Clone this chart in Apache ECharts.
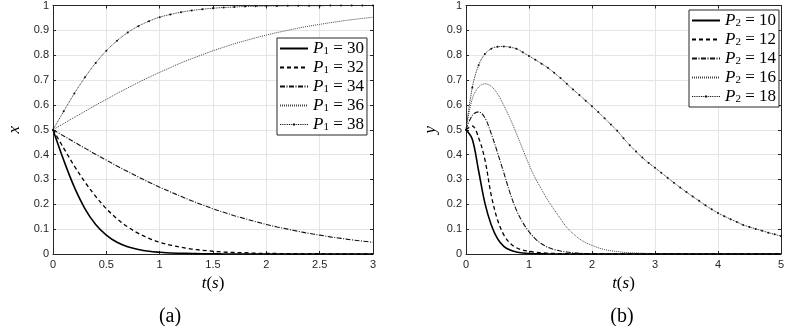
<!DOCTYPE html>
<html><head><meta charset="utf-8">
<script src="https://cdn.jsdelivr.net/npm/echarts@6/dist/echarts.min.js"></script>
<style>html,body{margin:0;padding:0;background:#fff}#c{width:787px;height:326px}</style>
</head><body><div id="c"></div>
<script>
// ---------- data: panel (a) ----------
const tA = [0,0.1,0.2,0.3,0.4,0.5,0.6,0.7,0.8,0.9,1.0,1.1,1.2,1.3,1.4,1.5,1.6,1.7,1.8,1.9,2.0,2.1,2.2,2.3,2.4,2.5,2.6,2.7,2.8,2.9,3.0];
const x30 = [0.5,0.378,0.269,0.182,0.119,0.076,0.047,0.029,0.018,0.011,0.007,0.004,0.003,0.002,0.001,0.001,0,0,0,0,0,0,0,0,0,0,0,0,0,0,0];
const x32 = [0.5,0.426,0.354,0.289,0.232,0.182,0.142,0.109,0.083,0.063,0.047,0.036,0.027,0.020,0.015,0.011,0.008,0.006,0.005,0.003,0.002,0.002,0.001,0.001,0.001,0.001,0,0,0,0,0];
const x34 = [0.5,0.475,0.450,0.426,0.401,0.378,0.354,0.332,0.310,0.289,0.269,0.250,0.232,0.214,0.198,0.182,0.168,0.154,0.142,0.130,0.119,0.109,0.100,0.091,0.083,0.076,0.069,0.063,0.057,0.052,0.047];
const x36 = [0.5,0.525,0.550,0.574,0.599,0.622,0.646,0.668,0.690,0.711,0.731,0.750,0.769,0.786,0.802,0.818,0.832,0.846,0.858,0.870,0.881,0.891,0.900,0.909,0.917,0.924,0.931,0.937,0.943,0.948,0.953];
const x38 = [0.5,0.574,0.646,0.711,0.769,0.818,0.858,0.891,0.917,0.937,0.953,0.964,0.973,0.980,0.985,0.989,0.992,0.994,0.996,0.997,0.998,0.998,0.999,0.999,0.999,0.999,1,1,1,1,1];
const legendValsA = ['30','32','34','36','38'];

// ---------- data: panel (b) ----------
const tB = [0,0.1,0.2,0.3,0.4,0.5,0.6,0.7,0.8,0.9,1.0,1.1,1.2,1.3,1.4,1.5,1.6,1.7,1.8,1.9,2.0,2.1,2.2,2.3,2.4,2.5,2.6,2.7,2.8,2.9,3.0,3.1,3.2,3.3,3.4,3.5,3.6,3.7,3.8,3.9,4.0,4.1,4.2,4.3,4.4,4.5,4.6,4.7,4.8,4.9,5.0];
const y10 = [0.5,0.462,0.335,0.205,0.118,0.062,0.031,0.016,0.008,0.004,0.002,0.001,0.001,0,0,0,0,0,0,0,0,0,0,0,0,0,0,0,0,0,0,0,0,0,0,0,0,0,0,0,0,0,0,0,0,0,0,0,0,0,0];
const y12 = [0.5,0.515,0.468,0.380,0.237,0.138,0.077,0.043,0.025,0.016,0.011,0.007,0.005,0.003,0.002,0.001,0.001,0,0,0,0,0,0,0,0,0,0,0,0,0,0,0,0,0,0,0,0,0,0,0,0,0,0,0,0,0,0,0,0,0,0];
const y14 = [0.5,0.558,0.572,0.548,0.485,0.408,0.327,0.245,0.177,0.127,0.090,0.061,0.041,0.027,0.018,0.012,0.008,0.005,0.003,0.002,0.001,0,0,0,0,0,0,0,0,0,0,0,0,0,0,0,0,0,0,0,0,0,0,0,0,0,0,0,0,0,0];
const y16 = [0.5,0.625,0.672,0.685,0.675,0.645,0.598,0.545,0.485,0.422,0.360,0.305,0.260,0.216,0.178,0.142,0.107,0.082,0.061,0.046,0.035,0.025,0.018,0.013,0.010,0.007,0.005,0.004,0.003,0.002,0.001,0.001,0.001,0,0,0,0,0,0,0,0,0,0,0,0,0,0,0,0,0,0];
const y18 = [0.5,0.670,0.760,0.805,0.826,0.834,0.835,0.832,0.826,0.812,0.797,0.782,0.766,0.749,0.729,0.708,0.685,0.662,0.640,0.617,0.595,0.571,0.546,0.521,0.496,0.466,0.438,0.412,0.388,0.366,0.347,0.327,0.307,0.287,0.268,0.249,0.231,0.214,0.196,0.180,0.165,0.152,0.140,0.129,0.117,0.109,0.101,0.094,0.086,0.079,0.072];
const legendValsB = ['10','12','14','16','18'];

// ---------- ticks ----------
const xTicksA = [0,0.5,1,1.5,2,2.5,3];
const xTicksB = [0,1,2,3,4,5];
const yTicks = [0,0.1,0.2,0.3,0.4,0.5,0.6,0.7,0.8,0.9,1];

const AX = '#262626', GRIDC = '#e5e5e5';
const SERIF = '"Liberation Serif", "DejaVu Serif", serif';
const SANS = '"Liberation Sans", Arial, sans-serif';

function pairs(t, v){ return t.map((x,i)=>[x, v[i]]); }

function xAxis(gi, ticks, pos, withName){
  const a = {
    type:'value', gridIndex:gi, position:pos,
    min:ticks[0], max:ticks[ticks.length-1], interval:ticks[1]-ticks[0],
    axisLine:{show:true, onZero:false, lineStyle:{color:AX, width:1}},
    axisTick:{show:true, inside:true, length:3, lineStyle:{color:AX}},
    axisLabel:{show:pos==='bottom', color:AX, fontSize:11, fontFamily:SANS, margin:5},
    splitLine:{show:pos==='bottom', lineStyle:{color:GRIDC, width:1}}
  };
  if (withName){
    a.name = '{i|t}{n|(}{i|s}{n|)}';
    a.nameLocation = 'middle';
    a.nameGap = 20;
    a.nameTextStyle = {rich:{
      i:{fontFamily:SERIF, fontStyle:'italic', fontSize:17, color:'#000'},
      n:{fontFamily:SERIF, fontSize:17, color:'#000'}
    }};
  }
  return a;
}
function yAxis(gi, pos, name, gap){
  const a = {
    type:'value', gridIndex:gi, position:pos,
    min:yTicks[0], max:yTicks[yTicks.length-1], interval:yTicks[1]-yTicks[0],
    axisLine:{show:true, onZero:false, lineStyle:{color:AX, width:1}},
    axisTick:{show:true, inside:true, length:3, lineStyle:{color:AX}},
    axisLabel:{show:pos==='left', color:AX, fontSize:11, fontFamily:SANS, margin:4},
    splitLine:{show:pos==='left', lineStyle:{color:GRIDC, width:1}}
  };
  if (name){
    a.name = name; a.nameLocation='middle'; a.nameGap=gap; a.nameRotate=90;
    a.nameTextStyle = {fontFamily:SERIF, fontStyle:'italic', fontSize:17, color:'#000'};
  }
  return a;
}

const styles = [
  {type:'solid', width:1.6, color:'#000'},
  {type:[4,3], width:1.3, color:'#000'},
  {type:[5,1.5,1,1.5], width:1.1, color:'#111'},
  {type:[1,1], width:1, color:'#444'},
  {type:[1,0.8], width:1, color:'#333'}
];

function mkSeries(name, t, v, k, xi, yi){
  const dot = k === 4;
  return {
    name, type:'line', xAxisIndex:xi, yAxisIndex:yi,
    data: pairs(t, v), smooth:0.35,
    symbol: dot ? 'circle' : 'none', symbolSize: 2, showSymbol: dot, showAllSymbol:true,
    itemStyle:{color:'#111'},
    lineStyle: styles[k], color: styles[k].color,
    emphasis:{disabled:true}, animation:false, z: 5 - k
  };
}

const sA = [x30,x32,x34,x36,x38], sB = [y10,y12,y14,y16,y18];
const namesA = legendValsA.map(v=>'P1='+v), namesB = legendValsB.map(v=>'P2='+v);
const series = [];
sA.forEach((v,k)=>series.push(mkSeries(namesA[k], tA, v, k, 0, 0)));
sB.forEach((v,k)=>series.push(mkSeries(namesB[k], tB, v, k, 2, 2)));

// legend icon for the dotted+dot series
let p = 'path://M0,0 M28,16';
for (let x=0; x<28; x+=1.8) p += ` M${x.toFixed(1)},7.5 h1 v1 h-1 z`;
p += ' M13,7 h2 v2 h-2 z';

function legendData(names){
  return names.map((n,k)=> k===4 ? {name:n, icon:p} : {name:n, itemStyle:{opacity:0}});
}
const legRich = {
  p:{fontFamily:SERIF, fontStyle:'italic', fontSize:17, lineHeight:16, color:'#000'},
  s:{fontFamily:SERIF, fontSize:11, lineHeight:11, verticalAlign:'bottom', color:'#000'},
  n:{fontFamily:SERIF, fontSize:17, lineHeight:16, color:'#000'}
};
function legend(names, left, top){
  return {
    data: legendData(names), orient:'vertical', left, top,
    itemWidth:28, itemHeight:16, itemGap:2, padding:[2,3,2,2],
    backgroundColor:'#fff', borderColor:AX, borderWidth:1, borderRadius:0,
    selectedMode:false, inactiveColor:'#000',
    formatter: n => { const [a,b] = n.split('='); return `{p|P}{s|${a.slice(1)}}{n| = ${b}}`; },
    textStyle:{rich:legRich}
  };
}

const option = {
  animation:false,
  backgroundColor:'#fff',
  grid:[
    {left:53, top:4, width:320, height:250},
    {left:466, top:4, width:318, height:250}
  ],
  xAxis:[ xAxis(0,xTicksA,'bottom',true), xAxis(0,xTicksA,'top',false),
          xAxis(1,xTicksB,'bottom',true), xAxis(1,xTicksB,'top',false) ],
  yAxis:[ yAxis(0,'left','x',30), yAxis(0,'right'),
          yAxis(1,'left','y',27), yAxis(1,'right') ],
  legend:[ legend(namesA, 277, 38), legend(namesB, 689, 10) ],
  series,
  graphic:[
    {type:'text', x:170, y:317, style:{text:'(a)', font:'20px '+SERIF, fill:'#000', textAlign:'center', textVerticalAlign:'middle'}},
    {type:'text', x:622, y:317, style:{text:'(b)', font:'20px '+SERIF, fill:'#000', textAlign:'center', textVerticalAlign:'middle'}}
  ]
};
const chart = echarts.init(document.getElementById('c'), null, {renderer:'canvas'});
chart.setOption(option);
</script></body></html>
